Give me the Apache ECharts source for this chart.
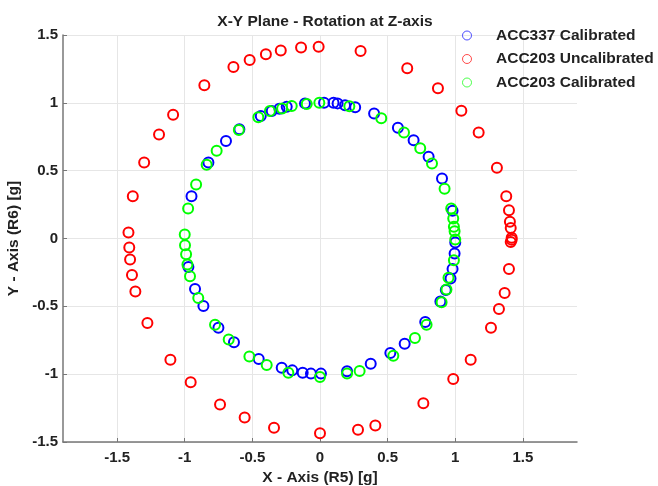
<!DOCTYPE html>
<html>
<head>
<meta charset="utf-8">
<script src="https://cdn.jsdelivr.net/npm/echarts@6/dist/echarts.min.js"></script>
<style>
html, body { margin: 0; padding: 0; background: #fff; }
#chart { width: 658px; height: 486px; }
</style>
</head>
<body>
<div id="chart"></div>
<script>
// tick labels
var xTicks = [-1.5, -1, -0.5, 0, 0.5, 1, 1.5];
var yTicks = [-1.5, -1, -0.5, 0, 0.5, 1, 1.5];

// ACC337 calibrated [x, y]
var acc337Cal = [
	[0.03, 1.0], [0.1, 1.0], [0.13, 0.996], [0.185, 0.982], [0.26, 0.967],
	[0.4, 0.922], [0.576, 0.816], [0.692, 0.725], [0.803, 0.602], [0.902, 0.443],
	[0.98, 0.204], [1.0, -0.03], [0.995, -0.11], [0.98, -0.225], [0.965, -0.295],
	[0.93, -0.38], [0.89, -0.465], [0.778, -0.615], [0.626, -0.775], [0.52, -0.844],
	[0.375, -0.923], [0.2, -0.979], [0.007, -0.996], [-0.067, -0.996], [-0.128, -0.989],
	[-0.205, -0.972], [-0.283, -0.952], [-0.453, -0.888], [-0.636, -0.765], [-0.751, -0.657],
	[-0.862, -0.497], [-0.924, -0.372], [-0.973, -0.21], [-0.95, 0.312], [-0.825, 0.561],
	[-0.695, 0.718], [-0.596, 0.806], [-0.438, 0.903], [-0.357, 0.939], [-0.3, 0.956],
	[-0.246, 0.971], [-0.111, 0.996]
];

// ACC203 uncalibrated [x, y]
var acc203Uncal = [
	[-0.01, 1.414], [-0.14, 1.407], [-0.29, 1.385], [-0.4, 1.358], [-0.52, 1.316],
	[-0.64, 1.264], [-0.855, 1.129], [-1.086, 0.912], [-1.19, 0.767], [-1.3, 0.561],
	[-1.384, 0.312], [-1.416, 0.044], [-1.41, -0.066], [-1.404, -0.155], [-1.39, -0.269],
	[-1.365, -0.391], [-1.276, -0.623], [-1.106, -0.893], [-0.956, -1.06], [-0.739, -1.223],
	[-0.557, -1.319], [-0.34, -1.395], [0.0, -1.435], [0.281, -1.41], [0.409, -1.378],
	[0.764, -1.215], [0.985, -1.036], [1.114, -0.893], [1.264, -0.657], [1.323, -0.52],
	[1.365, -0.401], [1.397, -0.224], [1.41, -0.025], [1.417, -0.01], [1.417, 0.005],
	[1.41, 0.078], [1.404, 0.123], [1.397, 0.209], [1.377, 0.312], [1.308, 0.521],
	[1.173, 0.782], [1.045, 0.942], [0.872, 1.107], [0.645, 1.255], [0.3, 1.382]
];

// ACC203 calibrated [x, y]
var acc203Cal = [
	[-0.005, 1.0], [0.217, 0.975], [0.453, 0.886], [0.621, 0.782], [0.741, 0.666],
	[0.828, 0.553], [0.921, 0.366], [0.97, 0.221], [0.985, 0.148], [0.99, 0.086],
	[0.995, 0.054], [1.0, -0.007], [0.99, -0.16], [0.95, -0.29], [0.935, -0.376],
	[0.899, -0.47], [0.788, -0.635], [0.702, -0.733], [0.542, -0.864], [0.293, -0.977],
	[0.2, -0.996], [0.0, -1.021], [-0.234, -0.989], [-0.394, -0.933], [-0.522, -0.869],
	[-0.675, -0.745], [-0.776, -0.635], [-0.9, -0.438], [-0.961, -0.278], [-0.98, -0.192],
	[-0.99, -0.116], [-0.998, -0.05], [-1.0, 0.03], [-0.975, 0.221], [-0.916, 0.398],
	[-0.838, 0.543], [-0.764, 0.647], [-0.6, 0.8], [-0.456, 0.893], [-0.37, 0.939],
	[-0.28, 0.959], [-0.209, 0.976], [-0.098, 0.991]
];

var fontName = "'Liberation Sans', Arial, sans-serif";

function circleSeries(name, data, color){
	return {
		name: name,
		type: 'scatter',
		data: data,
		symbol: 'circle',
		symbolSize: 10,
		itemStyle: {
			color: 'transparent',
			borderColor: color,
			borderWidth: 2,
			opacity: 1
		}
	};
}

var myChart = echarts.init(document.getElementById('chart'));
var option = {
	animation: false,
	backgroundColor: '#fff',
	color: ['#0000ff', '#ff0000', '#00ff00'],
	title: {
		text: 'X-Y Plane - Rotation at Z-axis',
		left: 320,
		textAlign: 'center',
		top: 9,
		textStyle: { fontSize: 15.5, fontWeight: 'bold', color: '#222', fontFamily: fontName }
	},
	legend: {
		orient: 'vertical',
		left: 462,
		top: 27.5,
		padding: 0,
		itemWidth: 48,
		itemHeight: 9,
		itemGap: 7.5,
		icon: 'circle',
		itemStyle: { borderWidth: 1, opacity: 0.7 },
		textStyle: { fontSize: 15.5, fontWeight: 'bold', color: '#222', fontFamily: fontName, lineHeight: 15 },
		data: ['ACC337 Calibrated', 'ACC203 Uncalibrated', 'ACC203 Calibrated']
	},
	grid: { left: 63, right: 81, top: 35, bottom: 44, outerBoundsMode: 'none', containLabel: false },
	xAxis: {
		type: 'value',
		min: -1.9,
		max: 1.9,
		name: 'X - Axis (R5) [g]',
		nameLocation: 'middle',
		nameGap: 23.5,
		nameTextStyle: { fontSize: 15.5, fontWeight: 'bold', color: '#222', fontFamily: fontName },
		axisLine: { show: true, onZero: false, lineStyle: { color: '#777', width: 1.5 } },
		axisTick: { show: true, inside: true, length: 4, customValues: xTicks, lineStyle: { color: '#777' } },
		axisLabel: { customValues: xTicks, margin: 8, fontSize: 15, fontWeight: 'bold', color: '#222', fontFamily: fontName },
		splitLine: { show: true, lineStyle: { color: '#e6e6e6', width: 1 } }
	},
	yAxis: {
		type: 'value',
		min: -1.5,
		max: 1.5,
		interval: 0.5,
		name: 'Y - Axis (R6) [g]',
		nameLocation: 'middle',
		nameGap: 35,
		nameTextStyle: { fontSize: 15.5, fontWeight: 'bold', color: '#222', fontFamily: fontName },
		axisLine: { show: true, onZero: false, lineStyle: { color: '#777', width: 1.5 } },
		axisTick: { show: true, inside: true, length: 4, customValues: yTicks, lineStyle: { color: '#777' } },
		axisLabel: { customValues: yTicks, margin: 5, fontSize: 15, fontWeight: 'bold', color: '#222', fontFamily: fontName },
		splitLine: { show: true, lineStyle: { color: '#e6e6e6', width: 1 } }
	},
	series: [
		circleSeries('ACC337 Calibrated', acc337Cal, '#0000ff'),
		circleSeries('ACC203 Uncalibrated', acc203Uncal, '#ff0000'),
		circleSeries('ACC203 Calibrated', acc203Cal, '#00ff00')
	]
};
myChart.setOption(option, true);
</script>
</body>
</html>
